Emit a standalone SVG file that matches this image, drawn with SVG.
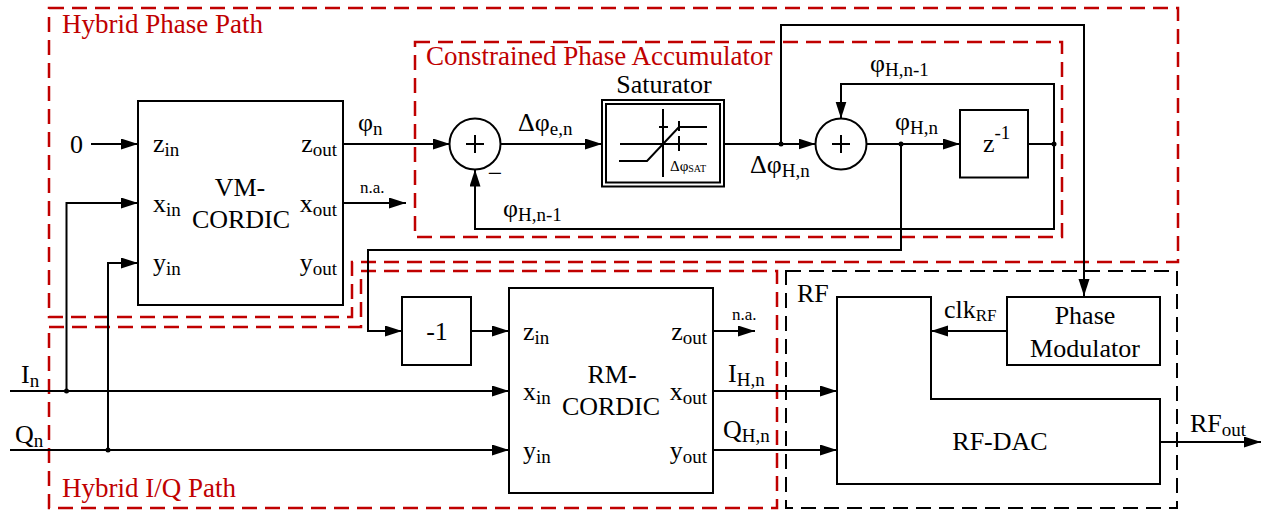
<svg xmlns="http://www.w3.org/2000/svg" width="1262" height="510" viewBox="0 0 1262 510">
<style>
text{font-family:"Liberation Serif","Times New Roman",serif !important;fill:#000;font-size:26px}
tspan{font-family:"Liberation Serif","Times New Roman",serif !important}
text.red{fill:#c00000;font-size:27px}
.mid{text-anchor:middle}
.end{text-anchor:end}
.sm{font-size:17px}
.sub{font-size:19px}
.t15{font-size:15px}
.t10{font-size:10px}
.blk{fill:#fff;stroke:#000;stroke-width:2}
.ln{fill:none;stroke:#000;stroke-width:2}
.rd{fill:none;stroke:#c00000;stroke-width:2.5;stroke-dasharray:15 8}
.kd{fill:none;stroke:#000;stroke-width:2;stroke-dasharray:15 8}
</style>
<defs>
<marker id="ah" markerUnits="userSpaceOnUse" markerWidth="18" markerHeight="12" refX="17" refY="5.5" orient="auto"><path d="M0,0 L17,5.5 L0,11 z" fill="#000"/></marker>
</defs>
<rect width="1262" height="510" fill="#fff"/>

<g id="regions">
<path class="rd" d="M49,8 H1178 V262 H352 V317 H49 Z"/>
<path class="rd" d="M49,327 H361 V271 H777 V508 H49 Z"/>
<path class="rd" d="M415,42 H1062 V237 H415 Z"/>
<path class="kd" d="M786,271 H1177 V508 H786 Z"/>
<text class="red" x="62" y="33">Hybrid Phase Path</text>
<text class="red" x="426" y="65">Constrained Phase Accumulator</text>
<text class="red" x="62" y="497">Hybrid I/Q Path</text>
<text x="797" y="302">RF</text>
</g>

<g id="connectors">
<path class="ln" d="M91,144 H138" marker-end="url(#ah)"/>
<path class="ln" d="M66.5,391 V203 H138" marker-end="url(#ah)"/>
<path class="ln" d="M108,450 V263 H138" marker-end="url(#ah)"/>
<path class="ln" d="M10,391 H509" marker-end="url(#ah)"/>
<path class="ln" d="M10,450 H509" marker-end="url(#ah)"/>
<path class="ln" d="M343,144 H450" marker-end="url(#ah)"/>
<path class="ln" d="M343,203 H406" marker-end="url(#ah)"/>
<path class="ln" d="M501,144 H602" marker-end="url(#ah)"/>
<path class="ln" d="M724,144 H815.5" marker-end="url(#ah)"/>
<path class="ln" d="M781,144 V25 H1084 V296" marker-end="url(#ah)"/>
<path class="ln" d="M866.5,144 H960" marker-end="url(#ah)"/>
<path class="ln" d="M1028,144 H1054"/>
<path class="ln" d="M1054,144 V84 H841 V118.5" marker-end="url(#ah)"/>
<path class="ln" d="M1054,144 V229 H475 V169.5" marker-end="url(#ah)"/>
<path class="ln" d="M901,144 V250 H368 V331 H402" marker-end="url(#ah)"/>
<path class="ln" d="M471,331 H509" marker-end="url(#ah)"/>
<path class="ln" d="M713,331 H755" marker-end="url(#ah)"/>
<path class="ln" d="M713,391 H837" marker-end="url(#ah)"/>
<path class="ln" d="M713,450 H837" marker-end="url(#ah)"/>
<path class="ln" d="M1007,331 H931" marker-end="url(#ah)"/>
<path class="ln" d="M1160,442 H1261" marker-end="url(#ah)"/>
<circle cx="66.5" cy="391" r="2.5"/>
<circle cx="108" cy="450" r="2.5"/>
<circle cx="781" cy="144" r="2.5"/>
<circle cx="901" cy="144" r="2.5"/>
<circle cx="1054" cy="144" r="2.5"/>
<text x="70" y="153">0</text>
<text x="21" y="383">I<tspan class="sub" dy="4">n</tspan></text>
<text x="15" y="443">Q<tspan class="sub" dy="4">n</tspan></text>
<text x="358" y="131">φ<tspan class="sub" dy="4">n</tspan></text>
<text class="sm" x="360" y="193">n.a.</text>
<text x="518" y="131">Δφ<tspan class="sub" dy="4">e,n</tspan></text>
<text x="750" y="173">Δφ<tspan class="sub" dy="4">H,n</tspan></text>
<text x="503" y="217">φ<tspan class="sub" dy="4">H,n-1</tspan></text>
<text x="870" y="72">φ<tspan class="sub" dy="4">H,n-1</tspan></text>
<text x="895" y="130">φ<tspan class="sub" dy="4">H,n</tspan></text>
<text class="sm" x="732" y="320">n.a.</text>
<text x="728" y="382">I<tspan class="sub" dy="4">H,n</tspan></text>
<text x="723" y="438">Q<tspan class="sub" dy="4">H,n</tspan></text>
<text x="944" y="318">clk<tspan class="sm" dy="3">RF</tspan></text>
<text x="1190" y="432">RF<tspan class="sub" dy="4">out</tspan></text>
</g>

<g id="vm-cordic">
<rect class="blk" x="138" y="101" width="205" height="204"/>
<text class="mid" x="240" y="196" style="font-family:'Liberation Serif',serif !important">VM-</text>
<text class="mid" x="241" y="228" style="font-family:'Liberation Serif',serif !important">CORDIC</text>
<text x="153" y="152">z<tspan class="sub" dy="4">in</tspan></text>
<text x="153" y="212">x<tspan class="sub" dy="4">in</tspan></text>
<text x="153" y="271">y<tspan class="sub" dy="4">in</tspan></text>
<text class="end" x="337" y="152">z<tspan class="sub" dy="4">out</tspan></text>
<text class="end" x="337" y="212">x<tspan class="sub" dy="4">out</tspan></text>
<text class="end" x="337" y="271">y<tspan class="sub" dy="4">out</tspan></text>
</g>

<g id="sum1">
<circle class="blk" cx="475" cy="144" r="25.5"/>
<path class="ln" d="M466,144 H484 M475,135 V153"/>
<text class="mid" x="495" y="182" style="font-family:'Liberation Serif',serif !important">−</text>
</g>

<g id="saturator">
<rect class="blk" x="602" y="100" width="122" height="86.5"/>
<rect class="blk" x="606" y="104" width="114" height="78.5"/>
<path class="ln" d="M620,144 H707 M663,109 V177 M619,161 H647 L679,127 H707 M659,127 H668 M679,121 V131 M679,136 V151"/>
<text class="t15" x="670" y="171" style="font-family:'Liberation Serif',serif !important">Δφ<tspan class="t10" dy="1">SAT</tspan></text>
<text class="mid" x="664" y="93" style="font-family:'Liberation Serif',serif !important">Saturator</text>
</g>

<g id="sum2">
<circle class="blk" cx="841" cy="144" r="25.5"/>
<path class="ln" d="M832,144 H850 M841,135 V153"/>
</g>

<g id="delay">
<rect class="blk" x="960" y="110" width="68" height="67.5"/>
<text x="983" y="152">z<tspan class="sub" dy="-13">-1</tspan></text>
</g>

<g id="neg1">
<rect class="blk" x="402" y="297" width="69" height="68"/>
<text class="mid" x="437" y="340" style="font-family:'Liberation Serif',serif !important">-1</text>
</g>

<g id="rm-cordic">
<rect class="blk" x="509" y="288" width="204" height="205"/>
<text class="mid" x="612" y="383" style="font-family:'Liberation Serif',serif !important">RM-</text>
<text class="mid" x="611" y="415" style="font-family:'Liberation Serif',serif !important">CORDIC</text>
<text x="523" y="340">z<tspan class="sub" dy="4">in</tspan></text>
<text x="523" y="400">x<tspan class="sub" dy="4">in</tspan></text>
<text x="523" y="459">y<tspan class="sub" dy="4">in</tspan></text>
<text class="end" x="707" y="340">z<tspan class="sub" dy="4">out</tspan></text>
<text class="end" x="707" y="400">x<tspan class="sub" dy="4">out</tspan></text>
<text class="end" x="707" y="459">y<tspan class="sub" dy="4">out</tspan></text>
</g>

<g id="phase-modulator">
<rect class="blk" x="1007" y="297" width="153" height="68"/>
<text class="mid" x="1085" y="324" style="font-family:'Liberation Serif',serif !important">Phase</text>
<text class="mid" x="1085" y="357" style="font-family:'Liberation Serif',serif !important">Modulator</text>
</g>

<g id="rf-dac">
<path class="blk" d="M837,297 H931 V399 H1160 V484 H837 Z"/>
<text class="mid" x="1000" y="450" style="font-family:'Liberation Serif',serif !important">RF-DAC</text>
</g>
</svg>
